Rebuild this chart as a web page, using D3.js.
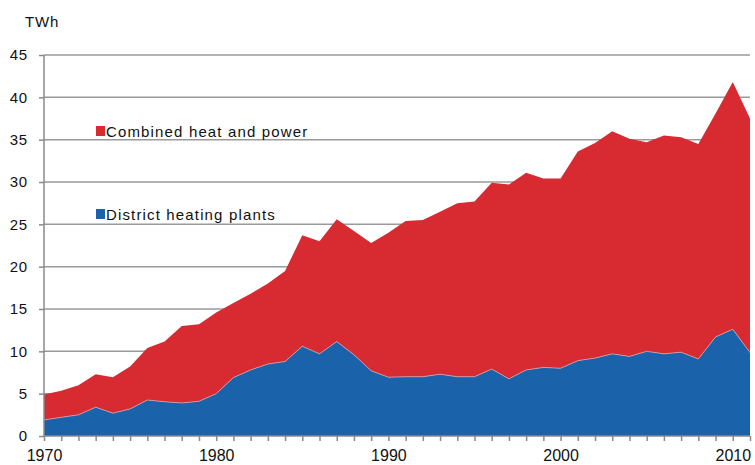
<!DOCTYPE html>
<html>
<head>
<meta charset="utf-8">
<script src="https://cdn.jsdelivr.net/npm/d3@7"></script>
<style>
  html, body { margin: 0; padding: 0; background: #fff; }
  svg { display: block; font-family: "Liberation Sans", Arial, sans-serif; }
</style>
</head>
<body>
<svg id="chart" width="755" height="465"></svg>
<script>
const years = d3.range(1970, 2012);
const districtHeating = [1.9, 2.2, 2.5, 3.4, 2.7, 3.2, 4.25, 4.05, 3.9, 4.1,
  5.0, 6.9, 7.8, 8.5, 8.8, 10.6, 9.7, 11.15, 9.6, 7.7,
  6.95, 7.0, 7.0, 7.3, 7.0, 7.0, 7.9, 6.75, 7.8, 8.1,
  8.0, 8.9, 9.2, 9.7, 9.4, 10.0, 9.7, 9.9, 9.1, 11.7,
  12.6, 9.85];
const combinedHeatPower = [3.0, 3.15, 3.5, 3.9, 4.25, 5.0, 6.15, 7.1, 9.1, 9.1,
  9.6, 8.8, 9.0, 9.5, 10.7, 13.1, 13.3, 14.45, 14.6, 15.1,
  17.05, 18.4, 18.5, 19.2, 20.5, 20.7, 22.0, 22.95, 23.3, 22.3,
  22.4, 24.7, 25.4, 26.3, 25.7, 24.7, 25.8, 25.4, 25.4, 26.4,
  29.2, 27.65];
const yTicks = [0, 5, 10, 15, 20, 25, 30, 35, 40, 45];
const xTickLabels = [1970, 1980, 1990, 2000, 2010];
const seriesNames = ["District heating plants", "Combined heat and power"];
const seriesColors = ["#1a62aa", "#d82b31"];

const rows = years.map((y, i) => ({ year: y, dh: districtHeating[i], chp: combinedHeatPower[i] }));

const svg = d3.select("#chart");
const x = d3.scaleLinear().domain([1970, 2011]).range([44, 750]);
const y = d3.scaleLinear().domain([0, 45]).range([436, 55]);

// gridlines
svg.append("g").selectAll("line").data(yTicks.filter(d => d > 0)).join("line")
  .attr("x1", 44).attr("x2", 750)
  .attr("y1", d => y(d)).attr("y2", d => y(d))
  .attr("stroke", "#9a9a9a").attr("stroke-width", 1.5);

// stacked areas
const stack = d3.stack().keys(["dh", "chp"]);
const layers = stack(rows);
const area = d3.area()
  .x(d => x(d.data.year))
  .y0(d => y(d[0]))
  .y1(d => y(d[1]));

svg.append("g").selectAll("path").data(layers).join("path")
  .attr("d", area)
  .attr("fill", (d, i) => seriesColors[i]);

// thin light boundary between layers
svg.append("path")
  .datum(layers[0])
  .attr("d", d3.line().x(d => x(d.data.year)).y(d => y(d[1])))
  .attr("fill", "none").attr("stroke", "#c9a6b4").attr("stroke-width", 0.8);

// y axis
const yAxis = d3.axisLeft(y).tickValues(yTicks).tickSize(5).tickPadding(11).tickFormat(d3.format("d"));
const gy = svg.append("g").attr("transform", "translate(44,0)").call(yAxis);
gy.select(".domain").attr("stroke", "#8a8a8a").attr("stroke-width", 1.5).attr("d", "M0,55V436");
gy.selectAll(".tick line").attr("stroke", "#8a8a8a").attr("stroke-width", 1.5);
gy.selectAll(".tick text").attr("font-size", 15).attr("fill", "#111").attr("letter-spacing", 0.8)
  .attr("font-family", "Liberation Sans, Arial, sans-serif");

// x axis
const xAxis = d3.axisBottom(x).tickValues(years).tickSize(5).tickPadding(9)
  .tickFormat(d => xTickLabels.includes(d) ? String(d) : "");
const gx = svg.append("g").attr("transform", "translate(0,436)").call(xAxis);
gx.select(".domain").attr("stroke", "#8a8a8a").attr("stroke-width", 1.5).attr("d", "M44,0H750");
gx.selectAll(".tick line").attr("stroke", "#8a8a8a").attr("stroke-width", 1.5);
gx.selectAll(".tick text").attr("font-size", 16).attr("fill", "#111")
  .attr("font-family", "Liberation Sans, Arial, sans-serif");

// unit label
svg.append("text").attr("x", 25).attr("y", 27).attr("font-size", 15)
  .attr("letter-spacing", 0.8).attr("fill", "#111").text("TWh");

// legend (inside chart)
const legend = [
  { name: seriesNames[1], color: seriesColors[1], y: 137 },
  { name: seriesNames[0], color: seriesColors[0], y: 220 }
];
const lg = svg.append("g").selectAll("g").data(legend).join("g");
lg.append("rect").attr("x", 96).attr("y", d => d.y - 11).attr("width", 9).attr("height", 10)
  .attr("fill", d => d.color);
lg.append("text").attr("x", 106).attr("y", d => d.y).attr("font-size", 15)
  .attr("letter-spacing", 1.15).attr("fill", "#111").text(d => d.name);
</script>
</body>
</html>
